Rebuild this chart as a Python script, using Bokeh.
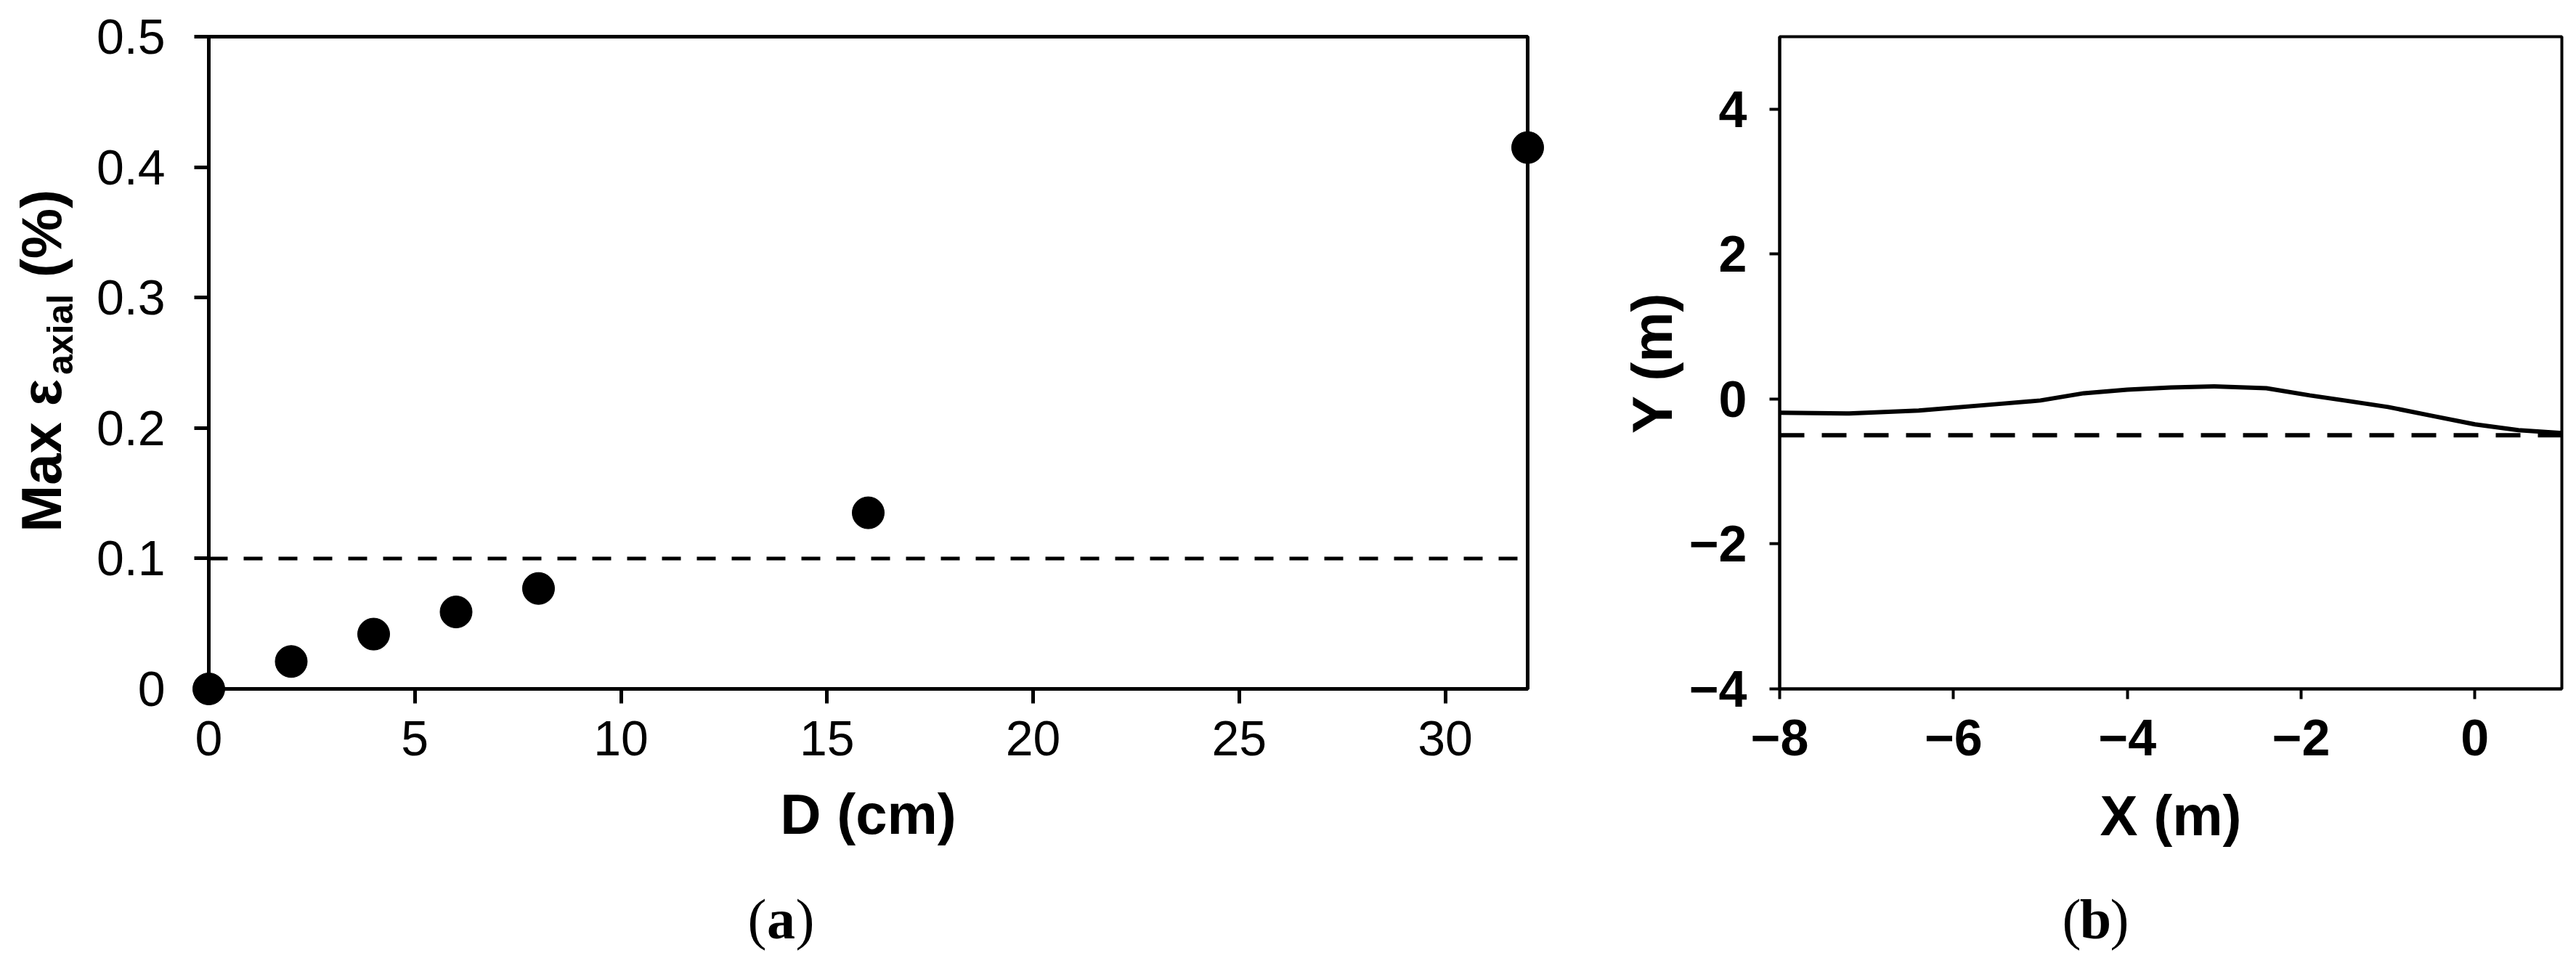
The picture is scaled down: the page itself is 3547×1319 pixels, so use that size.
from math import pi
from bokeh.plotting import figure
from bokeh.layouts import row, column
from bokeh.models import Range1d, FixedTicker
from bokeh.core.properties import value
from bokeh.embed import file_html
from bokeh.resources import INLINE

# ---------------- data: panel (a) ----------------
d_cm = [0, 2, 4, 6, 8, 16, 32]
max_strain = [0.0, 0.021, 0.042, 0.059, 0.077, 0.135, 0.415]
threshold_x = [0, 32]
threshold_y = [0.1, 0.1]
a_xticks = [0, 5, 10, 15, 20, 25, 30]
a_yticks = [0, 0.1, 0.2, 0.3, 0.4, 0.5]
a_ytick_labels = ["0", "0.1", "0.2", "0.3", "0.4", "0.5"]

# ---------------- data: panel (b) ----------------
curve_x = [-8, -7.2, -6.4, -5.5, -5.0, -4.5, -4.0, -3.5, -3.0, -2.4, -1.9, -1.5, -1.0, -0.5, 0.0, 0.5, 1.0]
curve_y = [-0.19, -0.2, -0.16, -0.07, -0.02, 0.08, 0.13, 0.16, 0.175, 0.15, 0.05, -0.02, -0.11, -0.23, -0.35, -0.43, -0.47]
level_x = [-8, 1]
level_y = [-0.5, -0.5]
b_xticks = [-8, -6, -4, -2, 0]
b_xtick_labels = ["\u22128", "\u22126", "\u22124", "\u22122", "0"]
b_yticks = [-4, -2, 0, 2, 4]
b_ytick_labels = ["\u22124", "\u22122", "0", "2", "4"]

# y-axis title pieces of panel (a): text, size, weight
ytitle_parts = ["Max \u03b5", "axial", "(%)"]
ytitle_sizes = ["78px", "50px", "78px"]

FONT = "Liberation Sans"
SERIF = "Liberation Serif"
TOP_H = 1215
CAP_H = 100
A_TOP, A_FRAME = 50, 899


def style_axes(p, lw, tick_out, label_size, label_style):
    for ax in (p.xaxis[0], p.yaxis[0]):
        ax.axis_line_width = lw
        ax.axis_line_color = "black"
        ax.major_tick_line_width = lw
        ax.major_tick_line_color = "black"
        ax.major_tick_in = 0
        ax.major_tick_out = tick_out
        ax.minor_tick_line_color = None
        ax.major_label_text_font = FONT
        ax.major_label_text_font_size = label_size
        ax.major_label_text_font_style = label_style
        ax.major_label_text_color = "black"
        ax.axis_label_text_font = FONT
        ax.axis_label_text_font_size = "78px"
        ax.axis_label_text_font_style = "bold"
        ax.axis_label_text_color = "black"
    p.xgrid.grid_line_color = None
    p.ygrid.grid_line_color = None
    p.outline_line_color = "black"
    p.outline_line_width = lw
    p.background_fill_color = "white"
    p.border_fill_color = "white"


def blank(w, h, top=0, bottom=0):
    f = figure(width=w, height=h, output_backend="svg", toolbar_location=None,
               x_axis_type=None, y_axis_type=None,
               x_range=Range1d(0, w), y_range=Range1d(0, h - top - bottom),
               min_border=0, min_border_left=0, min_border_right=0,
               min_border_top=top, min_border_bottom=bottom)
    f.outline_line_color = None
    f.xgrid.grid_line_color = None
    f.ygrid.grid_line_color = None
    f.background_fill_color = "white"
    f.border_fill_color = "white"
    return f


# ---------------- y-axis title of panel (a) (with subscript) ----------------
# ylab frame is aligned with panel (a) frame; units are pixels (y up from frame bottom)
ylab = blank(120, TOP_H, top=A_TOP, bottom=TOP_H - A_TOP - A_FRAME)
ylab.text(x=[56, 82, 56], y=[216, 433, 567], text=ytitle_parts, angle=pi / 2,
          text_align="left", text_baseline="middle", text_font=value(FONT),
          text_font_size=ytitle_sizes, text_font_style="bold", text_color="black")

# ---------------- panel (a) ----------------
pa = figure(width=2076, height=TOP_H, output_backend="svg", toolbar_location=None,
            x_range=Range1d(0, 32), y_range=Range1d(0, 0.5),
            min_border_left=167, min_border_right=93, min_border_top=A_TOP,
            min_border_bottom=TOP_H - A_TOP - A_FRAME)
style_axes(pa, 5, 20, "68px", "normal")
pa.xaxis.ticker = FixedTicker(ticks=a_xticks)
pa.yaxis.ticker = FixedTicker(ticks=a_yticks)
pa.yaxis.major_label_overrides = dict(zip(a_yticks, a_ytick_labels))
pa.xaxis.axis_label = "D (cm)"
pa.xaxis.axis_label_standoff = 34
pa.xaxis.major_label_standoff = 24
pa.yaxis.major_label_standoff = 40

pa.line(threshold_x, threshold_y, line_color="black", line_width=5, line_dash="26 22")
pts = pa.scatter(d_cm, max_strain, size=44, marker="circle", fill_color="black", line_color="black")
pts.level = "overlay"

# ---------------- panel (b) ----------------
pb = figure(width=1343, height=TOP_H, output_backend="svg", toolbar_location=None,
            x_range=Range1d(-8, 1), y_range=Range1d(-4, 5),
            min_border_left=254, min_border_right=12, min_border_top=33, min_border_bottom=TOP_H - 33 - 915)
style_axes(pb, 4, 14, "70px", "bold")
pb.xaxis.ticker = FixedTicker(ticks=b_xticks)
pb.yaxis.ticker = FixedTicker(ticks=b_yticks)
pb.xaxis.major_label_overrides = dict(zip(b_xticks, b_xtick_labels))
pb.yaxis.major_label_overrides = dict(zip(b_yticks, b_ytick_labels))
pb.xaxis.axis_label = "X (m)"
pb.yaxis.axis_label = "Y (m)"
pb.xaxis.axis_label_standoff = 36
pb.yaxis.axis_label_standoff = 4
pb.xaxis.major_label_standoff = 28
pb.yaxis.major_label_standoff = 31

pb.line(level_x, level_y, line_color="black", line_width=6, line_dash="34 24")
pb.line(curve_x, curve_y, line_color="black", line_width=6)


# ---------------- captions (a) and (b) ----------------
def caption(w, cx, letter):
    f = blank(w, CAP_H)
    f.text(x=[cx - 20, cx, cx + 20], y=[CAP_H - 50] * 3, text=["(", letter, ")"],
           text_align=["right", "center", "left"], text_baseline="middle", text_font=value(SERIF),
           text_font_size="78px", text_font_style=["normal", "bold", "normal"], text_color="black")
    return f


cap_a = caption(2196, 1075, "a")
cap_b = caption(1343, 2885 - 2196, "b")

layout = column(row(ylab, pa, pb), row(cap_a, cap_b))
open("out.html", "w").write(file_html(layout, INLINE))
